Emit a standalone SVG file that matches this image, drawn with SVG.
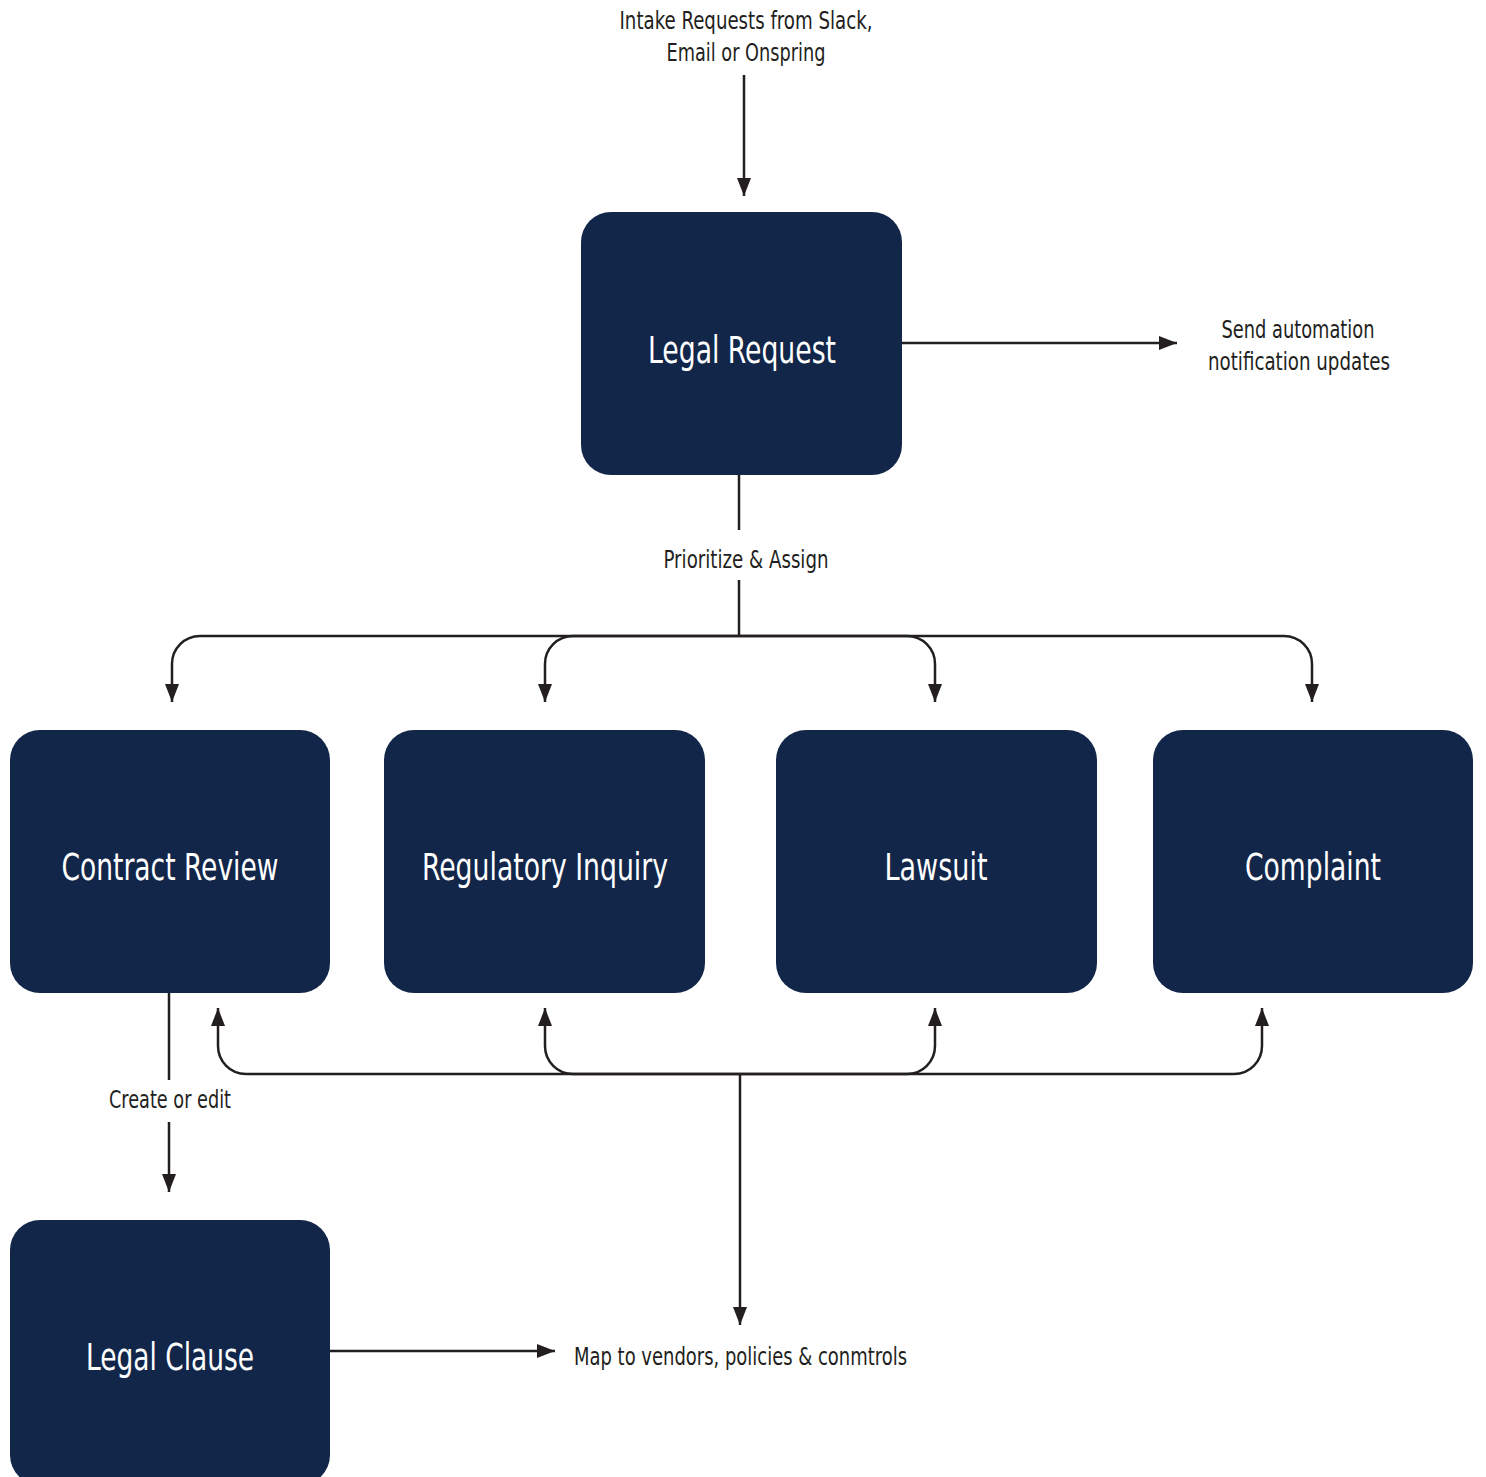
<svg xmlns="http://www.w3.org/2000/svg" width="1486" height="1477" viewBox="0 0 1486 1477">
<style>
.node{fill:#12264a}
.nt{fill:#ffffff;font-family:"Liberation Sans Narrow","DejaVu Sans Condensed","Liberation Sans",sans-serif;font-size:37px;text-anchor:middle}
.lbl{fill:#231f20;font-family:"Liberation Sans Narrow","DejaVu Sans Condensed","Liberation Sans",sans-serif;font-size:25px;text-anchor:middle}
.ln{fill:none;stroke:#231f20;stroke-width:2.5}
</style>
<defs>
<marker id="ah" markerWidth="18" markerHeight="14" refX="18" refY="7" orient="auto" markerUnits="userSpaceOnUse" viewBox="0 0 18 14">
<path d="M0 0 L18 7 L0 14 Z" fill="#231f20"/>
</marker>
</defs>
<rect width="1486" height="1477" fill="#ffffff"/>
<g id="connectors">
<path class="ln" d="M744 75 V196" marker-end="url(#ah)"/>
<path class="ln" d="M902 343 H1177" marker-end="url(#ah)"/>
<path class="ln" d="M739 475 V530"/>
<path class="ln" d="M739 580 V636"/>
<path class="ln" d="M739 636 H200 A28 28 0 0 0 172 664 V702" marker-end="url(#ah)"/>
<path class="ln" d="M739 636 H573 A28 28 0 0 0 545 664 V702" marker-end="url(#ah)"/>
<path class="ln" d="M739 636 H907 A28 28 0 0 1 935 664 V702" marker-end="url(#ah)"/>
<path class="ln" d="M739 636 H1284 A28 28 0 0 1 1312 664 V702" marker-end="url(#ah)"/>
<path class="ln" d="M169 993 V1080"/>
<path class="ln" d="M169 1122 V1192" marker-end="url(#ah)"/>
<path class="ln" d="M740 1074 H246 A28 28 0 0 1 218 1046 V1008" marker-end="url(#ah)"/>
<path class="ln" d="M740 1074 H573 A28 28 0 0 1 545 1046 V1008" marker-end="url(#ah)"/>
<path class="ln" d="M740 1074 H907 A28 28 0 0 0 935 1046 V1008" marker-end="url(#ah)"/>
<path class="ln" d="M740 1074 H1234 A28 28 0 0 0 1262 1046 V1008" marker-end="url(#ah)"/>
<path class="ln" d="M740 1074 V1325" marker-end="url(#ah)"/>
<path class="ln" d="M330 1351 H555" marker-end="url(#ah)"/>
</g>
<g id="labels">
<text class="lbl" x="746" y="29" textLength="253" lengthAdjust="spacingAndGlyphs">Intake Requests from Slack,</text>
<text class="lbl" x="746" y="61" textLength="159" lengthAdjust="spacingAndGlyphs">Email or Onspring</text>
<text class="lbl" x="1298" y="338" textLength="153" lengthAdjust="spacingAndGlyphs">Send automation</text>
<text class="lbl" x="1299" y="370" textLength="182" lengthAdjust="spacingAndGlyphs">notification updates</text>
<text class="lbl" x="746" y="568" textLength="165" lengthAdjust="spacingAndGlyphs">Prioritize &amp; Assign</text>
<text class="lbl" x="170" y="1108" textLength="122" lengthAdjust="spacingAndGlyphs">Create or edit</text>
<text class="lbl" x="574" y="1365" style="text-anchor:start" textLength="333" lengthAdjust="spacingAndGlyphs">Map to vendors, policies &amp; conmtrols</text>
</g>
<g id="legal-request"><rect class="node" x="581" y="212" width="321" height="263" rx="30"/><text class="nt" x="742" y="363" textLength="188" lengthAdjust="spacingAndGlyphs">Legal Request</text></g>
<g id="contract-review"><rect class="node" x="10" y="730" width="320" height="263" rx="30"/><text class="nt" x="170" y="880" textLength="217" lengthAdjust="spacingAndGlyphs">Contract Review</text></g>
<g id="regulatory-inquiry"><rect class="node" x="384" y="730" width="321" height="263" rx="30"/><text class="nt" x="545" y="880" textLength="246" lengthAdjust="spacingAndGlyphs">Regulatory Inquiry</text></g>
<g id="lawsuit"><rect class="node" x="776" y="730" width="321" height="263" rx="30"/><text class="nt" x="936" y="880" textLength="103" lengthAdjust="spacingAndGlyphs">Lawsuit</text></g>
<g id="complaint"><rect class="node" x="1153" y="730" width="320" height="263" rx="30"/><text class="nt" x="1313" y="880" textLength="136" lengthAdjust="spacingAndGlyphs">Complaint</text></g>
<g id="legal-clause"><rect class="node" x="10" y="1220" width="320" height="265" rx="30"/><text class="nt" x="170" y="1370" textLength="168" lengthAdjust="spacingAndGlyphs">Legal Clause</text></g>
</svg>
